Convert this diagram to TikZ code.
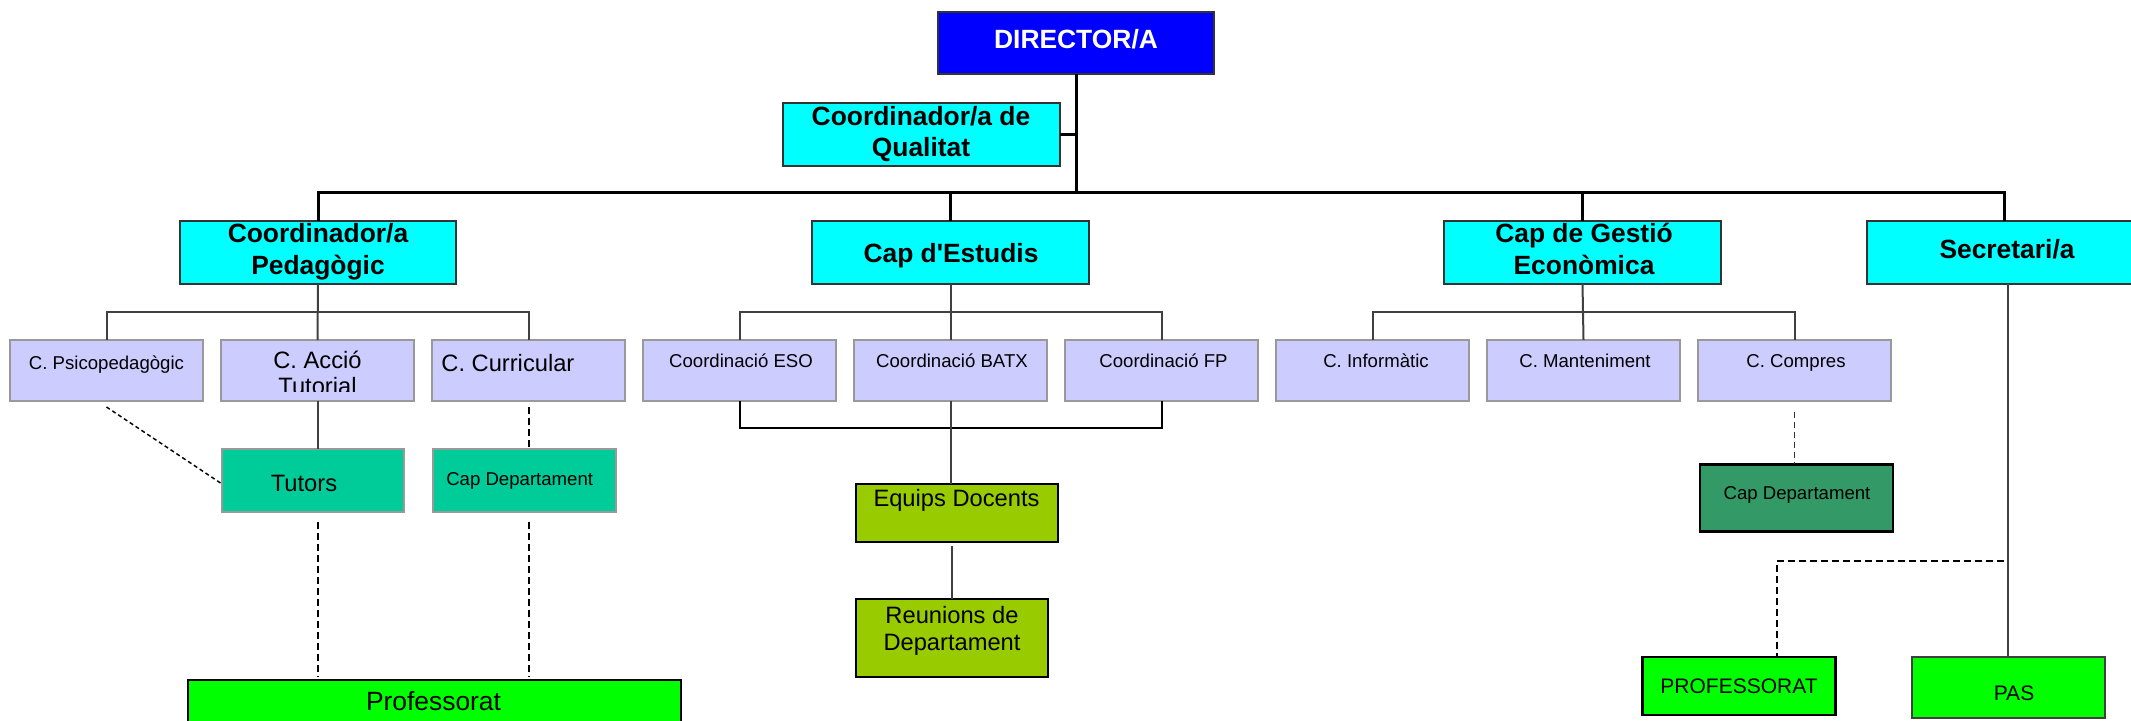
\documentclass[tikz,border=0pt]{standalone}
\usepackage{fontspec}
\setmainfont{Liberation Sans}
\definecolor{bluebox}{HTML}{0000FF}
\definecolor{cyanbox}{HTML}{00FFFF}
\definecolor{lavbox}{HTML}{CCCCFF}
\definecolor{tealbox}{HTML}{00CC99}
\definecolor{olivebox}{HTML}{99CC00}
\definecolor{dgreenbox}{HTML}{339966}
\definecolor{greenbox}{HTML}{00FF00}
\begin{document}
\begin{tikzpicture}[x=0.5pt,y=-0.5pt,
  boxbase/.style={rectangle, inner sep=0pt, outer sep=0pt},
  dirbox/.style={boxbase, draw=black!80, line width=1pt, fill=bluebox, minimum width=138pt, minimum height=31pt},
  topbox/.style={boxbase, draw=black!80, line width=1pt, fill=cyanbox, minimum width=138.5pt, minimum height=31.5pt},
  lvbox/.style={boxbase, draw=black!40, line width=1pt, fill=lavbox, minimum width=96.5pt, minimum height=30.5pt},
  tealnode/.style={boxbase, draw=black!40, line width=1pt, fill=tealbox, minimum height=31.5pt},
  olivenode/.style={boxbase, draw=black, line width=1.3pt, fill=olivebox},
  dgreennode/.style={boxbase, draw=black, line width=1.3pt, fill=dgreenbox},
  greennode/.style={boxbase, draw=black, line width=1.2pt, fill=greenbox},
  pasnode/.style={boxbase, draw=black!75, line width=1pt, fill=greenbox},
  bigtxt/.style={font=\fontsize{13.2pt}{15.8pt}\selectfont\bfseries, inner sep=0pt, align=center},
  smalltxt/.style={font=\fontsize{9.3pt}{11pt}\selectfont, inner sep=0pt},
  midtxt/.style={font=\fontsize{11.85pt}{13.2pt}\selectfont, inner sep=0pt, align=center},
  proftxt/.style={font=\fontsize{13.2pt}{15pt}\selectfont, inner sep=0pt},
  captxt/.style={font=\fontsize{10.5pt}{12pt}\selectfont, inner sep=0pt},
  mainline/.style={line width=1.5pt, black},
  subline/.style={line width=1pt, black!75},
  lowline/.style={line width=1pt, black},
  dline/.style={line width=1pt, black, dash pattern=on 3.5pt off 2pt},
  fineline/.style={line width=0.7pt, black, dash pattern=on 2pt off 1.5pt},
  grayline/.style={line width=0.9pt, black!80, dash pattern=on 3pt off 2pt}
]
\useasboundingbox (0,0) rectangle (2131,721);
\clip (0,0) rectangle (2131,721);

% top level
\node[dirbox] (dir) at (1076,43) {};
\node[bigtxt, text=white, anchor=base] (dir-t) at (1076,49) {DIRECTOR/A};
\node[topbox] (qual) at (921,134.5) {};
\node[bigtxt] (qual-t) at (921,134) {Coordinador/a de\\Qualitat};

% level 1
\node[topbox, minimum width=138pt] (ped) at (318,252.5) {};
\node[bigtxt] (ped-t) at (318,252) {Coordinador/a\\Pedagògic};
\node[topbox] (est) at (950.5,252.5) {};
\node[bigtxt, anchor=base] (est-t) at (951,263) {Cap d\textquotesingle Estudis};
\node[topbox] (eco) at (1582.5,252.5) {};
\node[bigtxt] (eco-t) at (1584,249) {Cap de Gestió\\Econòmica};
\node[topbox] (sec) at (2005,253) {};
\node[bigtxt, anchor=base] (sec-t) at (2007,259) {Secretari/a};

% level 2
\node[lvbox] (psy) at (106.5,370.5) {};
\node[smalltxt, anchor=base] (psy-t) at (106.5,370) {C. Psicopedagògic};
\node[lvbox] (act) at (317.5,370.5) {};
\begin{scope}
  \clip (221,339) rectangle (414,392);
  \node[midtxt] (act-t) at (317.5,373) {C. Acció\\Tutorial};
\end{scope}
\node[lvbox] (cur) at (528.5,370.5) {};
\node[midtxt, anchor=base west] (cur-t) at (441,371.5) {C. Curricular};
\node[lvbox] (eso) at (739.5,370.5) {};
\node[smalltxt, anchor=base] (eso-t) at (741,368) {Coordinació ESO};
\node[lvbox] (batx) at (950.5,370.5) {};
\node[smalltxt, anchor=base] (batx-t) at (952,368) {Coordinació BATX};
\node[lvbox] (fp) at (1161.5,370.5) {};
\node[smalltxt, anchor=base] (fp-t) at (1163.5,368) {Coordinació FP};
\node[lvbox] (inf) at (1372.5,370.5) {};
\node[smalltxt, anchor=base] (inf-t) at (1376,368) {C. Informàtic};
\node[lvbox] (man) at (1583.5,370.5) {};
\node[smalltxt, anchor=base] (man-t) at (1585,368) {C. Manteniment};
\node[lvbox] (com) at (1794.5,370.5) {};
\node[smalltxt, anchor=base] (com-t) at (1796,368) {C. Compres};

% level 3
\node[tealnode, minimum width=91pt] (tut) at (313,480.5) {};
\node[midtxt, anchor=base] (tut-t) at (304,491) {Tutors};
\node[tealnode, minimum width=91.5pt] (capL) at (524.5,480.5) {};
\node[smalltxt, anchor=base] (capL-t) at (519.7,486) {Cap Departament};
\node[greennode, minimum width=246.5pt, minimum height=30pt] (prof) at (434.5,710) {};
\node[proftxt, anchor=base] (prof-t) at (433.5,710) {Professorat};
\node[olivenode, minimum width=101pt, minimum height=29pt] (equ) at (957,513) {};
\node[midtxt, anchor=base] (equ-t) at (956.5,507) {Equips Docents};
\node[olivenode, minimum width=96pt, minimum height=39pt] (reu) at (952,638) {};
\node[midtxt] (reu-t) at (952,631) {Reunions de\\Departament};
\node[dgreennode, minimum width=96.5pt, minimum height=33.5pt] (capR) at (1796.5,498) {};
\node[smalltxt, anchor=base] (capR-t) at (1797,500) {Cap Departament};
\node[greennode, minimum width=96.5pt, minimum height=29pt] (profR) at (1739,686) {};
\node[captxt, anchor=base] (profR-t) at (1739,693) {PROFESSORAT};
\node[pasnode, minimum width=96.5pt, minimum height=30.5pt] (pas) at (2008,687) {};
\node[captxt, anchor=base] (pas-t) at (2014,700) {PAS};

% main connectors
\coordinate (bus) at (1076,193);
\draw[mainline] (dir.south) -- (bus);
\draw[mainline] (ped.north) |- (bus);
\draw[mainline] ([xshift=-0.5pt]sec.north) |- (bus);
\draw[mainline] (est.north) -- (est.north |- bus);
\draw[mainline] (eco.north) -- (eco.north |- bus);
\draw[mainline] (qual.east) -- (qual.east -| dir.south);

% sub connectors
\coordinate (pb) at (318,312);
\coordinate (eb) at (950.5,312);
\coordinate (gb) at (1582.5,312);
\draw[subline] (ped.south) -- (act.north);
\draw[subline] (psy.north) |- (pb) -| (cur.north);
\draw[subline] (est.south) -- (batx.north);
\draw[subline] (eso.north) |- (eb) -| (fp.north);
\draw[subline] (eco.south) -- (man.north);
\draw[subline] (inf.north) |- (gb) -| (com.north);

% lower bus to Equips Docents
\coordinate (lb) at (950.5,428);
\draw[lowline] (eso.south) |- (lb) -| (fp.south);
\draw[subline] (batx.south) -- (batx.south |- equ.north);
\draw[subline] (reu.north) -- ([yshift=-2pt]reu.north |- equ.south);

% pedagogic area
\draw[subline] (act.south) -- (act.south |- tut.north);
\draw[fineline] ([yshift=-3pt]psy.south) -- ([yshift=-1.75pt]tut.west);
\draw[dline] ([yshift=-3pt]cur.south) -- (cur.south |- capL.north);
\draw[dline] ([yshift=-5pt]act.south |- tut.south) -- ([yshift=1.5pt]act.south |- prof.north);
\draw[dline] ([yshift=-5pt]cur.south |- capL.south) -- ([yshift=1.5pt]cur.south |- prof.north);

% economic / secretary area
\draw[grayline] ([yshift=-5.5pt]com.south) -- (com.south |- capR.north);
\draw[subline] ([xshift=1.5pt]sec.south) -- (pas.north);
\coordinate (sj) at (2004,561);
\draw[dline] (sj) -| ([xshift=19pt]profR.north);
\end{tikzpicture}
\end{document}
